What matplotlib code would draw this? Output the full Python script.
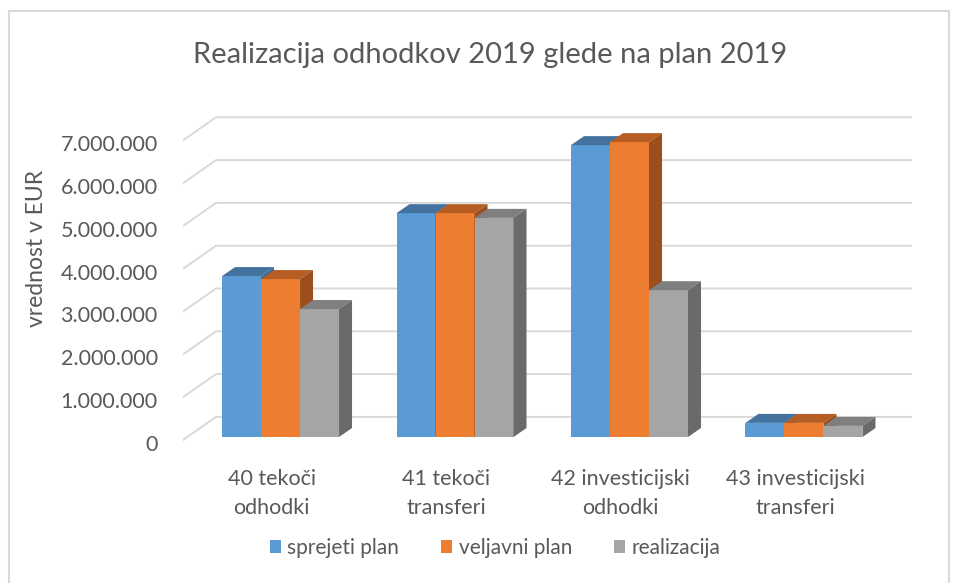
import matplotlib.pyplot as plt
from matplotlib.patches import Polygon, Rectangle, Patch
from matplotlib.lines import Line2D

plt.rcParams['font.family'] = ['Lato', 'DejaVu Sans']

categories = ['40 tekoči\nodhodki', '41 tekoči\ntransferi',
              '42 investicijski\nodhodki', '43 investicijski\ntransferi']
series = ['sprejeti plan', 'veljavni plan', 'realizacija']
sprejeti_plan = [3760000, 5230000, 6820000, 330000]
veljavni_plan = [3690000, 5230000, 6890000, 330000]
realizacija = [2990000, 5120000, 3430000, 260000]
yticks = [0, 1000000, 2000000, 3000000, 4000000, 5000000, 6000000, 7000000]

# front, top, side shades for each series
colors = [('#5B9BD5', '#44729E', '#3E6A94'),
          ('#ED7D31', '#B55D23', '#9C4F1C'),
          ('#A5A5A5', '#7F7F7F', '#6A6A6A')]
text_col = '#595959'
grid_col = '#D9D9D9'

W, H = 958, 583
fig = plt.figure(figsize=(W / 100, H / 100), dpi=100)

# plot area in pixels (front-left edge of floor to right edge of back wall)
px_l, px_r, px_b, px_t = 183, 912, 443, 100
ax = fig.add_axes([px_l / W, (H - px_b) / H, (px_r - px_l) / W, (px_b - px_t) / H])
ax.set_xlim(-0.559, 3.619)
ax.set_ylim(-70000, 7944000)
ax.axis('off')

# 3d depth of the wall and of the bars (in data units)
wall_dx, wall_dy = 0.189, 540000
bar_dx, bar_dy = 0.0745, 210000
base = 70000
width = 0.2235
x_front = -0.559

# walls / gridlines
for v in yticks:
    ax.add_line(Line2D([x_front, x_front + wall_dx, 3.619], [v, v + wall_dy, v + wall_dy],
                       color=grid_col, lw=1.4, zorder=1))
    ax.text(x_front - 0.145, v - 110000, f'{v:,}'.replace(',', '.'), ha='right', va='center',
            fontsize=15.5, color=text_col)

data = [sprejeti_plan, veljavni_plan, realizacija]
z = 2
for i in range(len(categories)):
    for j, vals in enumerate(data):
        x0 = i + (j - 1.5) * width
        x1 = x0 + width
        top = base + vals[i]
        front, topc, side = colors[j]
        ax.add_patch(Rectangle((x0, base), width, vals[i], facecolor=front, edgecolor='none', zorder=z))
        ax.add_patch(Polygon([(x0, top), (x0 + bar_dx, top + bar_dy), (x1 + bar_dx, top + bar_dy), (x1, top)],
                             closed=True, facecolor=topc, edgecolor='none', zorder=z))
        ax.add_patch(Polygon([(x1, base), (x1 + bar_dx, base + bar_dy), (x1 + bar_dx, top + bar_dy), (x1, top)],
                             closed=True, facecolor=side, edgecolor='none', zorder=z))
        z += 1
    ax.text(i - 0.05, -0.075, categories[i], transform=ax.get_xaxis_transform(), ha='center', va='top',
            fontsize=15.5, color=text_col, linespacing=1.55)

fig.text(490 / W, 1 - 55 / H, 'Realizacija odhodkov 2019 glede na plan 2019', ha='center', va='center',
         fontsize=21, color=text_col)
fig.text(37 / W, 1 - 248 / H, 'vrednost v EUR', rotation=90, ha='center', va='center',
         fontsize=16.5, color=text_col)

handles = [Patch(facecolor=c[0], edgecolor='none') for c in colors]
fig.legend(handles, series, loc='center', bbox_to_anchor=(495 / W, 1 - 548 / H), ncol=3, frameon=False,
           fontsize=15, handlelength=0.55, handleheight=0.55, handletextpad=0.3, columnspacing=2.0,
           labelcolor=text_col)

# chart border
fig.add_artist(Rectangle((9 / W, -0.05), 940 / W, 1.05 - 11 / H, transform=fig.transFigure,
                         facecolor='none', edgecolor=grid_col, lw=1.5))

fig.savefig('out.png', dpi=100)
